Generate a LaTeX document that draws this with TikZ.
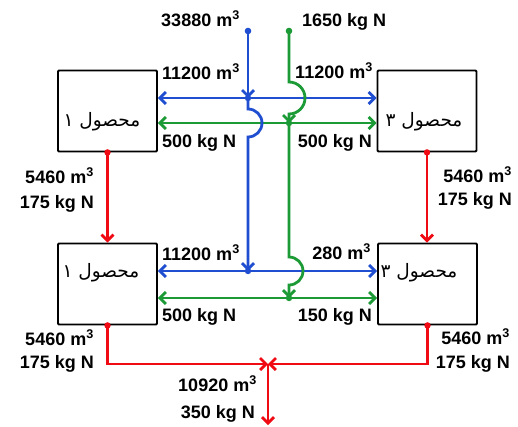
\documentclass[tikz,border=0pt]{standalone}
\usepackage{fontspec}
\setmainfont{Liberation Sans}
\newfontfamily\arabicfont[Script=Arabic]{DejaVu Sans}
\TeXXeTstate=1
\usetikzlibrary{arrows.meta}
\definecolor{bluec}{HTML}{1F4FD0}
\definecolor{greenc}{HTML}{1B9A35}
\definecolor{redc}{HTML}{F00A14}
\tikzset{
  unit/.style={draw=black,line width=1.8pt,rounded corners=1pt,minimum width=99pt,minimum height=81pt,inner sep=0pt},
  ftxt/.style={font=\arabicfont\fontsize{18.5}{20}\selectfont,inner sep=0pt},
  lbl/.style={font=\bfseries\fontsize{18}{20}\selectfont,inner sep=0pt},
  ar/.style={-{Straight Barb[length=6pt,width=12pt]}},
  bw/.style={bluec,line width=2.8pt},
  gw/.style={greenc,line width=2.8pt},
  rw/.style={redc,line width=2.8pt}
}
\begin{document}
\begin{tikzpicture}[x=1pt,y=-1pt]
\fill[white] (0,0) rectangle (518,426);
\useasboundingbox (0,0) rectangle (518,426);
\node[unit] (p1a) at (107.5,111) {};
\node[unit] (p3a) at (427,111) {};
\node[unit] (p1b) at (107.5,284) {};
\node[unit] (p3b) at (427.5,284) {};
\node[ftxt] (t1a) at (102,122) {\beginR محصول ۱\endR};
\node[ftxt] (t3a) at (424,122) {\beginR محصول ۳\endR};
\node[ftxt] (t1b) at (101,273) {\beginR محصول ۱\endR};
\node[ftxt] (t3b) at (419,273) {\beginR محصول ۳\endR};
\coordinate (sb) at (248,31);
\coordinate (sg) at (289,31);
\coordinate (jb1) at (248,98);
\coordinate (jg1) at (289,123);
\coordinate (jb2) at (248,271);
\coordinate (jg2) at (289,298);
\coordinate (jr) at (268,364);
\coordinate (rout) at (268,425);
\draw[bw,ar] (jb1) -- (jb1 -| p1a.east);
\draw[bw,ar] (jb1) -- (jb1 -| p3a.west);
\draw[gw,ar] (jg1) -- (jg1 -| p1a.east);
\draw[gw,ar] (jg1) -- (jg1 -| p3a.west);
\draw[bw,ar] (jb2) -- (jb2 -| p1b.east);
\draw[bw,ar] (jb2) -- (jb2 -| p3b.west);
\draw[gw,ar] (jg2) -- (jg2 -| p1b.east);
\draw[gw,ar] (jg2) -- (jg2 -| p3b.west);
\draw[bw,ar] (sb) -- (jb1);
\draw[bw,ar] (jb1) -- ++(0,11) arc[start angle=-90,end angle=90,radius=14] -- (jb2);
\draw[gw,ar] (sg) -- ++(0,51) arc[start angle=-90,end angle=90,radius=16] -- (jg1);
\draw[gw,ar] (jg1) -- ++(0,134) arc[start angle=-90,end angle=90,radius=14] -- (jg2);
\draw[rw,ar] (p1a.south) -- (p1b.north);
\draw[rw,ar] (p3a.south) -- (p3a.south |- p3b.north);
\draw[rw,ar] (p1b.south) |- (jr);
\draw[rw,ar] (p3b.south) |- (jr);
\draw[rw,ar] (jr) -- (rout);
\fill[bluec] (sb) circle (3.3) (jb1) circle (3.2) (jb2) circle (3.2);
\fill[greenc] (sg) circle (3.3) (jg1) circle (3.2) (jg2) circle (3.2);
\fill[redc] (p1a.south) circle (3.2) (p3a.south) circle (3.2) (p1b.south) circle (3.2) (p3b.south) circle (3.2);
\node[lbl,anchor=base east] (lq0) at (240,26) {33880 m\textsuperscript{3}};
\node[lbl,anchor=base west] (ln0) at (302,26) {1650 kg N};
\node[lbl,anchor=base west] (lq1a) at (162,79) {11200 m\textsuperscript{3}};
\node[lbl,anchor=base west] (ln1a) at (162,147) {500 kg N};
\node[lbl,anchor=base east] (lq3a) at (373,78) {11200 m\textsuperscript{3}};
\node[lbl,anchor=base east] (ln3a) at (372,147) {500 kg N};
\node[lbl,anchor=base east] (lq1m) at (94,183) {5460 m\textsuperscript{3}};
\node[lbl,anchor=base east] (ln1m) at (94,208) {175 kg N};
\node[lbl,anchor=base east] (lq3m) at (512,182) {5460 m\textsuperscript{3}};
\node[lbl,anchor=base east] (ln3m) at (512,205) {175 kg N};
\node[lbl,anchor=base west] (lq1b) at (162,260) {11200 m\textsuperscript{3}};
\node[lbl,anchor=base west] (ln1b) at (162,321) {500 kg N};
\node[lbl,anchor=base east] (lq3b) at (371,259) {280 m\textsuperscript{3}};
\node[lbl,anchor=base east] (ln3b) at (372,321) {150 kg N};
\node[lbl,anchor=base east] (lq1c) at (94,345) {5460 m\textsuperscript{3}};
\node[lbl,anchor=base east] (ln1c) at (94,368) {175 kg N};
\node[lbl,anchor=base east] (lq3c) at (510,344) {5460 m\textsuperscript{3}};
\node[lbl,anchor=base east] (ln3c) at (510,368) {175 kg N};
\node[lbl,anchor=base east] (lqo) at (257,391) {10920 m\textsuperscript{3}};
\node[lbl,anchor=base east] (lno) at (255,418) {350 kg N};
\end{tikzpicture}
\end{document}
